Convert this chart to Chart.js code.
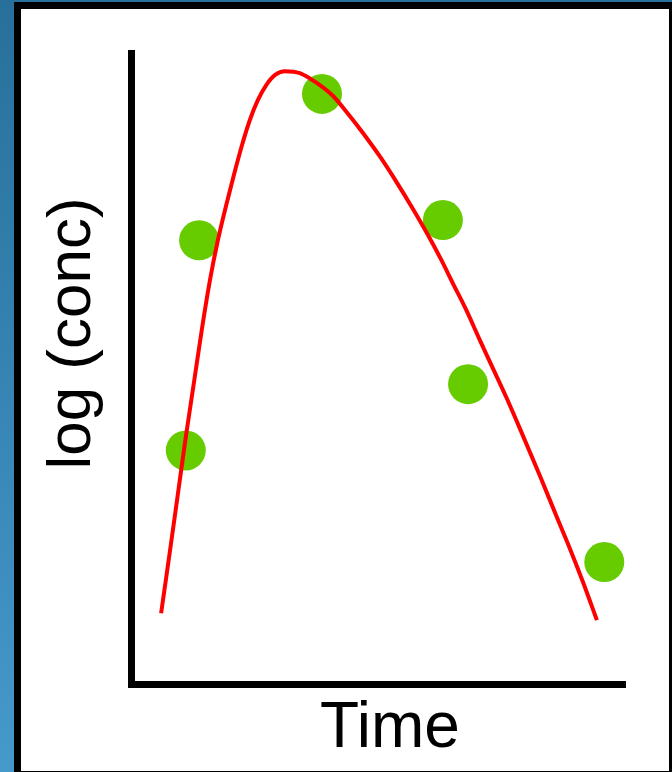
<!DOCTYPE html>
<html>
<head>
<meta charset="utf-8">
<script src="https://cdn.jsdelivr.net/npm/chart.js@4"></script>
<style>
  html, body { margin: 0; padding: 0; }
  body {
    width: 672px; height: 772px; position: relative; overflow: hidden;
    background: linear-gradient(#27709b, #4599cb);
  }
  #frame { position: absolute; left: 14px; top: 2px; right: 0; bottom: 0; background: #000; }
  #paper { position: absolute; left: 21px; top: 9px; width: 648px; height: 762px; background: #fff; }
  #myChart { position: absolute; left: 0; top: 0; }
</style>
</head>
<body>
<div id="frame"></div>
<div id="paper"></div>
<canvas id="myChart" width="672" height="772"></canvas>
<script>
// fitted curve (time, log conc)
var curveTime = [
  0.60, 0.78, 0.94, 1.10, 1.27, 1.43, 1.59, 1.75, 1.92, 2.08, 2.24, 2.40,
  2.56, 2.73, 2.91, 3.11, 3.41, 3.76, 4.08, 4.37, 4.69, 5.04, 5.38, 5.70,
  6.01, 6.27, 6.53, 6.78, 7.04, 7.30, 7.59, 7.89, 8.28, 8.62, 8.87, 9.15,
  9.43,
];
var curveConc = [
  1.13, 2.12, 3.02, 3.92, 4.81, 5.65, 6.41, 7.04, 7.60, 8.09, 8.55, 8.95,
  9.26, 9.50, 9.66, 9.72, 9.69, 9.53, 9.33, 9.06, 8.74, 8.36, 7.95, 7.54,
  7.12, 6.74, 6.33, 5.94, 5.49, 5.05, 4.56, 4.02, 3.30, 2.65, 2.18, 1.62,
  1.02,
];

// measured samples
var sampleTime = [1.10, 1.37, 3.86, 6.31, 6.82, 9.58];
var sampleConc = [3.71, 7.04, 9.36, 7.36, 4.76, 1.94];

var xTitle = "Time";
var yTitle = "log (conc)";

function toPoints(xs, ys) {
  return xs.map(function (x, i) { return { x: x, y: ys[i] }; });
}

// axis labels drawn where the original puts them
var axisText = {
  id: "axisText",
  afterDraw: function (chart) {
    var ctx = chart.ctx;
    var area = chart.chartArea;
    ctx.save();
    ctx.fillStyle = "#000";
    ctx.textAlign = "center";
    ctx.textBaseline = "alphabetic";
    ctx.font = "64px 'Liberation Sans', Arial, sans-serif";
    ctx.fillText(xTitle, area.left + 258.5, area.bottom + 62.5);
    ctx.translate(area.left - 41.5, area.top + 280);
    ctx.rotate(-Math.PI / 2);
    ctx.font = "62px 'Liberation Sans', Arial, sans-serif";
    ctx.fillText(yTitle, 0, 0);
    ctx.restore();
  },
};

document.addEventListener("DOMContentLoaded", function () {
  var ctx = document.getElementById("myChart").getContext("2d");

  var axis = {
    type: "linear",
    min: 0,
    max: 10,
    ticks: { display: false },
    grid: { display: false, drawTicks: false },
    border: { display: true, color: "#000", width: 7 },
  };

  new Chart(ctx, {
    type: "scatter",
    data: {
      datasets: [
        {
          label: "fit",
          data: toPoints(curveTime, curveConc),
          showLine: true,
          borderColor: "#ff0000",
          borderWidth: 4,
          pointRadius: 0,
          cubicInterpolationMode: "monotone",
          fill: false,
        },
        {
          label: "samples",
          data: toPoints(sampleTime, sampleConc),
          pointRadius: 20,
          pointBackgroundColor: "#66cc00",
          pointBorderWidth: 0,
        },
      ],
    },
    options: {
      responsive: false,
      animation: false,
      layout: { padding: { left: 131.5, top: 53.5, right: 47, bottom: 87.5 } },
      scales: { x: axis, y: axis },
      plugins: { legend: { display: false }, tooltip: { enabled: false } },
    },
    plugins: [axisText],
  });
});
</script>
</body>
</html>
